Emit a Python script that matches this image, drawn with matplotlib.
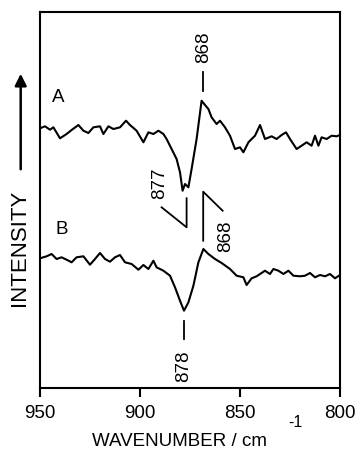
import matplotlib
matplotlib.use("Agg")
import matplotlib.pyplot as plt

plt.rcParams['font.family'] = ['Liberation Sans', 'DejaVu Sans']

# Spectrum A (wavenumber, vertical position in plot units; larger = lower)
wn_a = [950, 947.5, 945, 943.3, 940, 936.7, 934, 930.8, 928.3, 925.8, 923.3, 920, 918.3,
        915.8, 913.3, 910, 907, 905, 901.7, 898.3, 895.8, 893.3, 890.8, 888.3, 886.7,
        884.2, 881.7, 880, 878.7, 877.5, 875.8, 874.2, 871.7, 869.2, 867.5, 865.8, 864.2,
        861.7, 860, 857.5, 855, 852.5, 850, 848.3, 845.8, 842.5, 840, 837.5, 834.2, 831.7,
        829.2, 827, 825, 821.7, 819.2, 816.7, 814.2, 812.5, 810.8, 809.2, 806.7, 804.2,
        801.7, 800]
y_a = [129.3, 127.3, 130.7, 128.3, 139.3, 135, 130.7, 126, 131.7, 134, 128.3, 127.3, 135,
       127.3, 130, 128.3, 121.7, 126, 131.7, 143.3, 133.3, 135, 131.7, 135, 140,
       150, 160, 173.3, 191.7, 185, 188.3, 170, 140, 101.7, 106, 110, 118.3,
       125, 121.7, 128.3, 136.7, 150, 148.3, 153.3, 143.3, 136.7, 126, 140, 137.3, 140,
       136, 133.3, 140, 150, 146.7, 143.3, 146.7, 136.7, 146.7, 138.3, 140, 136.7,
       137.3, 136]

# Spectrum B
wn_b = [950, 946.7, 944.2, 941.7, 939.2, 936.7, 934.2, 931.7, 928.3, 925, 922.5, 920,
        917.5, 915, 912.5, 910, 907.5, 904.2, 900.8, 898.3, 895.8, 893.3, 891.7, 888.3,
        885, 882.5, 880, 878, 875.8, 873.3, 870.8, 868.3, 865.8, 862.5, 859.2, 855,
        851.7, 848.3, 846.7, 844.2, 841.7, 837.5, 835, 833.3, 830.8, 828.3, 825.8, 823.3,
        820, 817.5, 815, 812.5, 810, 807.5, 805, 802.5, 800]
y_b = [259.3, 257.3, 255, 260, 258.3, 260.7, 263.3, 258.3, 257.3, 265.7, 260, 254,
       260, 262.7, 258.3, 256, 263.3, 265, 270.7, 266, 270, 261.7, 268.3, 271.7,
       276.7, 288.3, 301.7, 311.7, 303.3, 286.7, 263.3, 250, 255, 260, 264, 270,
       276.7, 278.3, 286, 279.3, 277.3, 271.7, 275, 270, 271.7, 275, 271.7, 276.7,
       277.3, 276.7, 274, 278.3, 276, 277.3, 275, 279.3, 276]

xticks = [950, 900, 850, 800]
xtick_labels = ['950', '900', '850', '800']

fig = plt.figure(figsize=(3.59, 4.52), dpi=100)
ax = fig.add_axes([0.1114, 0.1394, 0.9471 - 0.1114, 0.9712 - 0.1394])
ax.plot(wn_a, y_a, color='black', lw=1.5)
ax.plot(wn_b, y_b, color='black', lw=1.5)
ax.set_xlim(950, 800)
ax.set_ylim(389, 13)
ax.set_xticks(xticks)
ax.set_xticklabels(xtick_labels)
ax.set_yticks([])
ax.tick_params(axis='x', direction='out', length=6.5, width=1.5, labelsize=13.5, pad=5)
for s in ax.spines.values():
    s.set_linewidth(1.5)

fs = 13.5
# Labels on traces
ax.text(941, 97, 'A', fontsize=fs, ha='center', va='center')
ax.text(939, 229, 'B', fontsize=fs, ha='center', va='center')
ax.text(868, 47, '868', fontsize=fs, rotation=90, ha='center', va='center')
ax.plot([868.3, 868.3], [73, 92], color='black', lw=1.3)
ax.text(890, 183, '877', fontsize=fs, rotation=90, ha='center', va='center')
ax.plot([889.2, 876.7, 876.7], [208.3, 228.3, 199.3], color='black', lw=1.3)
ax.plot([868.4, 868.4, 858.7], [241.7, 192.7, 211.7], color='black', lw=1.3)
ax.text(857, 236, '868', fontsize=fs, rotation=90, ha='center', va='center')
ax.plot([878, 878], [321.7, 340], color='black', lw=1.3)
ax.text(878, 366, '878', fontsize=fs, rotation=90, ha='center', va='center')

# Axis labels
fig.text(179.5 / 359, 1 - 442 / 452, 'WAVENUMBER / cm', fontsize=13.5, ha='center', va='center')
fig.text(295 / 359, 1 - 423 / 452, '-1', fontsize=11.5, ha='center', va='center')
fig.text(20 / 359, 1 - 248 / 452, 'INTENSITY', fontsize=16, rotation=90, ha='center', va='center')
fig.patches.append(matplotlib.patches.FancyArrowPatch(
    (20.7 / 359, 1 - 173 / 452), (20.7 / 359, 1 - 72 / 452), transform=fig.transFigure,
    arrowstyle='-|>,head_length=7,head_width=3.5', color='black', lw=1.8, mutation_scale=1))

fig.savefig('out.png', dpi=100)
